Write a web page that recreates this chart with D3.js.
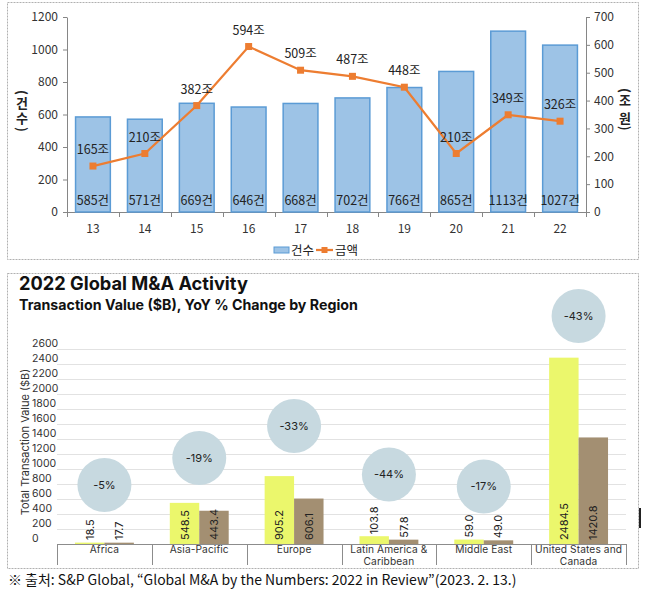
<!DOCTYPE html>
<html><head><meta charset="utf-8">
<script src="https://cdn.jsdelivr.net/npm/d3@7"></script>
<style>body{margin:0;background:#fff} svg{display:block}</style>
</head><body>
<svg id="c" width="647" height="603"></svg>
<script>
// ---------- data: top chart ----------
const years = ["13","14","15","16","17","18","19","20","21","22"];
const dealCounts = [585,571,669,646,668,702,766,865,1113,1027];
const dealAmounts = [165,210,382,594,509,487,448,210,349,326];
const leftTicks = [0,200,400,600,800,1000,1200];
const rightTicks = [0,100,200,300,400,500,600,700];

// ---------- data: bottom chart ----------
const regions = ["Africa","Asia-Pacific","Europe","Latin America & Caribbean","Middle East","United States and Canada"];
const regionLines = [["Africa"],["Asia-Pacific"],["Europe"],["Latin America &","Caribbean"],["Middle East"],["United States and","Canada"]];
const value2021 = [18.5,548.5,905.2,103.8,59.0,2484.5];
const value2022 = [17.7,443.4,606.1,57.8,49.0,1420.8];
const yoyChange = ["-5%","-19%","-33%","-44%","-17%","-43%"];
const bubbleLevel = [787,1147,1573,927,767,3040];
const valueTicks = [0,200,400,600,800,1000,1200,1400,1600,1800,2000,2200,2400,2600];

const kr = "'Noto Sans CJK KR', 'Malgun Gothic', sans-serif";
const en = "Inter, 'Liberation Sans', Arial, sans-serif";

const svg = d3.select("#c");
svg.append("rect").attr("width",647).attr("height",603).attr("fill","#fff");

function fit(sel, w){
  const l = sel.node().getComputedTextLength();
  const fs = parseFloat(sel.attr("font-size"));
  if (l > 0) sel.attr("font-size", fs * w / l);
}

// panel borders
svg.append("rect").attr("x",7.5).attr("y",2.5).attr("width",631).attr("height",257)
  .attr("fill","none").attr("stroke","#b0b0b0").attr("stroke-dasharray","2,1");
svg.append("rect").attr("x",7.5).attr("y",273.5).attr("width",631).attr("height",295)
  .attr("fill","none").attr("stroke","#b0b0b0").attr("stroke-dasharray","2,1");

// ================= TOP CHART =================
const topG = svg.append("g");
const x1 = d3.scaleBand().domain(years).range([67,586]).paddingInner(0.33).paddingOuter(0.165);
const yL = d3.scaleLinear().domain([0,1200]).range([212,17]);
const yR = d3.scaleLinear().domain([0,700]).range([212,17]);
const axisColor = "#868686";
const plain = d3.format("d");

const gL = topG.append("g").attr("transform","translate(67,0)")
  .call(d3.axisLeft(yL).tickValues(leftTicks).tickFormat(plain).tickSize(4).tickSizeOuter(0).tickPadding(5));
const gR = topG.append("g").attr("transform","translate(586,0)")
  .call(d3.axisRight(yR).tickValues(rightTicks).tickFormat(plain).tickSize(4).tickSizeOuter(0).tickPadding(4));
[gL,gR].forEach(g=>{
  g.select(".domain").attr("stroke",axisColor);
  g.selectAll(".tick line").attr("stroke",axisColor);
  g.selectAll(".tick text").attr("font-family",kr).attr("font-size",12).attr("fill","#333");
});

// x axis
topG.append("line").attr("x1",67).attr("x2",586).attr("y1",212.5).attr("y2",212.5).attr("stroke",axisColor);
const step1 = x1.step();
topG.selectAll(".xt").data(years.concat(["end"])).join("line")
  .attr("x1",(d,i)=> Math.round(67 + i*step1)+0.5).attr("x2",(d,i)=> Math.round(67 + i*step1)+0.5)
  .attr("y1",212).attr("y2",217).attr("stroke",axisColor);
topG.selectAll(".xl").data(years).join("text")
  .attr("x",d=>x1(d)+x1.bandwidth()/2).attr("y",233)
  .attr("text-anchor","middle").attr("font-family",kr).attr("font-size",12).attr("fill","#333")
  .text(d=>d);

// bars
topG.selectAll(".bar").data(dealCounts).join("rect")
  .attr("x",(d,i)=>x1(years[i])).attr("width",x1.bandwidth())
  .attr("y",d=>yL(d)).attr("height",d=>yL(0)-yL(d))
  .attr("fill","#9DC3E6").attr("stroke","#5B9BD5").attr("stroke-width",1.5);
topG.selectAll(".bl").data(dealCounts).join("text")
  .attr("x",(d,i)=>x1(years[i])+x1.bandwidth()/2).attr("y",205)
  .attr("text-anchor","middle").attr("font-family",kr).attr("font-size",12.5).attr("fill","#222")
  .text(d=>d+"건");

// line
const lineGen = d3.line().x((d,i)=>x1(years[i])+x1.bandwidth()/2).y(d=>yR(d));
topG.append("path").datum(dealAmounts).attr("d",lineGen)
  .attr("fill","none").attr("stroke","#ED7D31").attr("stroke-width",2.25);
topG.selectAll(".mk").data(dealAmounts).join("rect")
  .attr("x",(d,i)=>x1(years[i])+x1.bandwidth()/2-3.5).attr("y",d=>yR(d)-3.5)
  .attr("width",7).attr("height",7).attr("fill","#ED7D31");
topG.selectAll(".ml").data(dealAmounts).join("text")
  .attr("x",(d,i)=>x1(years[i])+x1.bandwidth()/2).attr("y",d=>yR(d)-12)
  .attr("text-anchor","middle").attr("font-family",kr).attr("font-size",12.5).attr("fill","#222")
  .text(d=>d+"조");

// axis titles (vertical)
topG.append("text").attr("x",22).attr("y",90).attr("font-family",kr).attr("font-size",13)
  .attr("font-weight","bold").attr("fill","#222").attr("letter-spacing",2).style("writing-mode","vertical-rl").text("(건수)");
topG.append("text").attr("x",625).attr("y",88).attr("font-family",kr).attr("font-size",13)
  .attr("font-weight","bold").attr("fill","#222").attr("letter-spacing",1).style("writing-mode","vertical-rl").text("(조 원)");

// legend
topG.append("rect").attr("x",274).attr("y",247).attr("width",15).attr("height",6)
  .attr("fill","#9DC3E6").attr("stroke","#5B9BD5");
topG.append("text").attr("x",291).attr("y",255).attr("font-family",kr).attr("font-size",12.5).attr("fill","#222").text("건수");
topG.append("line").attr("x1",316).attr("x2",333).attr("y1",250).attr("y2",250).attr("stroke","#ED7D31").attr("stroke-width",2.25);
topG.append("rect").attr("x",321.5).attr("y",247).attr("width",6).attr("height",6).attr("fill","#ED7D31");
topG.append("text").attr("x",335).attr("y",255).attr("font-family",kr).attr("font-size",12.5).attr("fill","#222").text("금액");

// ================= BOTTOM CHART =================
const bot = svg.append("g");
const t1 = bot.append("text").attr("x",19).attr("y",290).attr("font-family",en).attr("font-weight",700)
  .attr("font-size",18).attr("fill","#111").text("2022 Global M&A Activity");
fit(t1,229);
const t2 = bot.append("text").attr("x",19).attr("y",310).attr("font-family",en).attr("font-weight",700)
  .attr("font-size",14.5).attr("fill","#111").text("Transaction Value ($B), YoY % Change by Region");
fit(t2,339);

const x2 = d3.scaleBand().domain(regions).range([57,626]);
const y2 = d3.scaleLinear().domain([0,2600]).range([544,349]);
const sub = d3.scaleBand().domain(["2021","2022"]).range([0,x2.bandwidth()]).paddingInner(0).paddingOuter(0.61);

// gridlines
bot.selectAll(".gl").data(valueTicks.filter(t=>t>0)).join("line")
  .attr("x1",57).attr("x2",626).attr("y1",d=>Math.round(y2(d))+0.5).attr("y2",d=>Math.round(y2(d))+0.5)
  .attr("stroke","#e2e2e2");
bot.selectAll(".yl").data(valueTicks).join("text")
  .attr("x",32).attr("y",d=>y2(d)-2).attr("font-family",en).attr("font-size",10.5).attr("fill","#333")
  .text(d=>d);
bot.append("text").attr("transform","translate(29,442) rotate(-90)").attr("text-anchor","middle")
  .attr("font-family",en).attr("font-size",11).attr("fill","#333").text("Total Transaction Value ($B)");

// bars
const bars = bot.append("g");
bars.selectAll(".b1").data(value2021).join("rect")
  .attr("x",(d,i)=>x2(regions[i])+sub("2021")).attr("width",sub.bandwidth())
  .attr("y",d=>y2(d)).attr("height",d=>y2(0)-y2(d)).attr("fill","#EBF76C");
bars.selectAll(".b2").data(value2022).join("rect")
  .attr("x",(d,i)=>x2(regions[i])+sub("2022")).attr("width",sub.bandwidth())
  .attr("y",d=>y2(d)).attr("height",d=>y2(0)-y2(d)).attr("fill","#A38F72");

// bubbles
bot.selectAll(".bub").data(bubbleLevel).join("circle")
  .attr("cx",(d,i)=>x2(regions[i])+x2.bandwidth()/2).attr("cy",d=>y2(d)).attr("r",27)
  .attr("fill","#C7D9E0");
bot.selectAll(".bt").data(yoyChange).join("text")
  .attr("x",(d,i)=>x2(regions[i])+x2.bandwidth()/2).attr("y",(d,i)=>y2(bubbleLevel[i])+4)
  .attr("text-anchor","middle").attr("font-family",en).attr("font-size",11).attr("fill","#222")
  .text(d=>d);

function barLabels(vals, key){
  bars.selectAll(".lb"+key).data(vals).join("text")
    .attr("transform",(d,i)=>{
      const cx = x2(regions[i]) + sub(key) + sub.bandwidth()/2 + 4;
      const h = y2(0) - y2(d);
      const yb = h > 30 ? y2(0)-4 : Math.min(y2(0)-4, y2(d)-2);
      return `translate(${cx},${yb}) rotate(-90)`;
    })
    .attr("font-family",en).attr("font-size",11).attr("fill","#222")
    .text(d=>d.toFixed(1));
}
barLabels(value2021,"2021");
barLabels(value2022,"2022");

// baseline & separators
bot.append("line").attr("x1",57).attr("x2",626).attr("y1",544.5).attr("y2",544.5).attr("stroke","#8c8c8c");
bot.selectAll(".sep").data(regions.concat(["end"])).join("line")
  .attr("x1",(d,i)=>Math.round(57+i*x2.step())+0.5).attr("x2",(d,i)=>Math.round(57+i*x2.step())+0.5)
  .attr("y1",544).attr("y2",565).attr("stroke","#8c8c8c");

// region labels
regions.forEach((r,i)=>{
  const t = bot.append("text").attr("x",x2(r)+x2.bandwidth()/2).attr("y",553)
    .attr("text-anchor","middle").attr("font-family",en).attr("font-size",10.2).attr("fill","#333")
    .attr("letter-spacing",0.1);
  regionLines[i].forEach((ln,j)=>{
    t.append("tspan").attr("x",x2(r)+x2.bandwidth()/2).attr("dy",j===0?0:11.5).text(ln);
  });
});

// small dark mark at right edge
svg.append("rect").attr("x",639).attr("y",508).attr("width",2).attr("height",20).attr("fill","#222");

// footer
const ft = svg.append("text").attr("x",8).attr("y",585).attr("font-family",kr).attr("font-size",13.5)
  .attr("fill","#111").text("※ 출처: S&P Global, “Global M&A by the Numbers: 2022 in Review”(2023. 2. 13.)");
fit(ft,509);
</script>
</body></html>
